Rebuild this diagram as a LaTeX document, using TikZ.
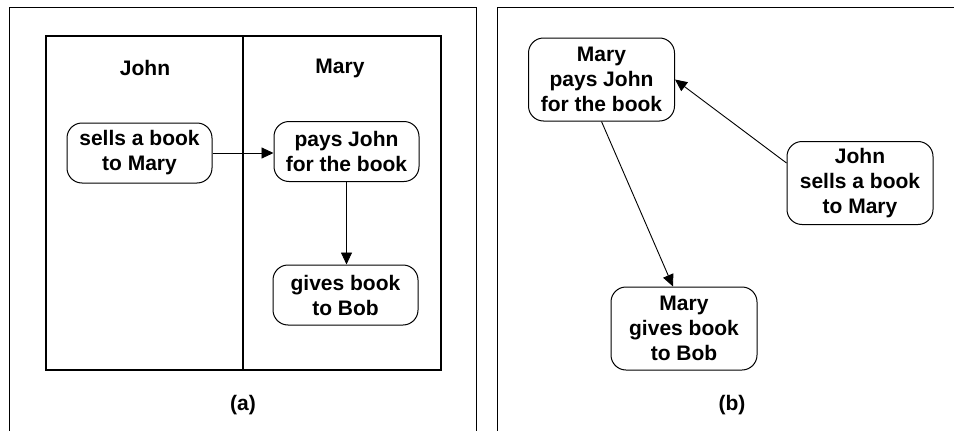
\documentclass[tikz,border=0pt]{standalone}
\usepackage{fontspec}
\setmainfont{Liberation Sans}
\usetikzlibrary{arrows.meta}
\begin{document}
\begin{tikzpicture}[x=1pt,y=-1pt,
  txt/.style={font=\fontsize{21}{25}\selectfont\bfseries, align=center, inner sep=0pt},
  act/.style={txt, draw, line width=1pt, rounded corners=15pt, minimum width=145pt, minimum height=60pt},
  act3/.style={act, minimum width=146pt, minimum height=83pt},
  frame/.style={line width=1pt},
  conn/.style={line width=0.9pt, -{Triangle[length=12pt,width=11pt]}}]
\useasboundingbox (0,0) rectangle (954,431);
% frames
\draw[frame] (9,431) -- (9,7) -- (476,7) -- (476,431);
\draw[frame] (497,431) -- (497,7) -- (954,7);
% swimlanes
\draw[line width=1.5pt] (46,36) rectangle (441,370);
\draw[line width=2pt] (243,36) -- (243,370);
\node[txt] (john) at (145,68) {John};
\node[txt] (mary) at (340,68) {Mary};
\node[act] (sells) at (139.5,153) {sells a book\\to Mary};
\node[act] (pays) at (346.5,151.5) {pays John\\for the book};
\node[act] (gives) at (345.5,295) {gives book\\to Bob};
\draw[conn] (sells.east) -- (sells.east -| pays.west);
\draw[conn] (pays.south) -- (pays.south |- gives.north);
\node[txt] (la) at (243,405) {(a)};
% right panel
\node[act3] (mp) at (601.5,79.5) {Mary\\pays John\\for the book};
\node[act3] (js) at (860,183) {John\\sells a book\\to Mary};
\node[act3] (mg) at (684,328.5) {Mary\\gives book\\to Bob};
\draw[conn] ([yshift=20pt]js.west) -- (mp.east);
\draw[conn] (mp.south) -- ([xshift=-11pt]mg.north);
\node[txt] (lb) at (732,405) {(b)};
\end{tikzpicture}
\end{document}
